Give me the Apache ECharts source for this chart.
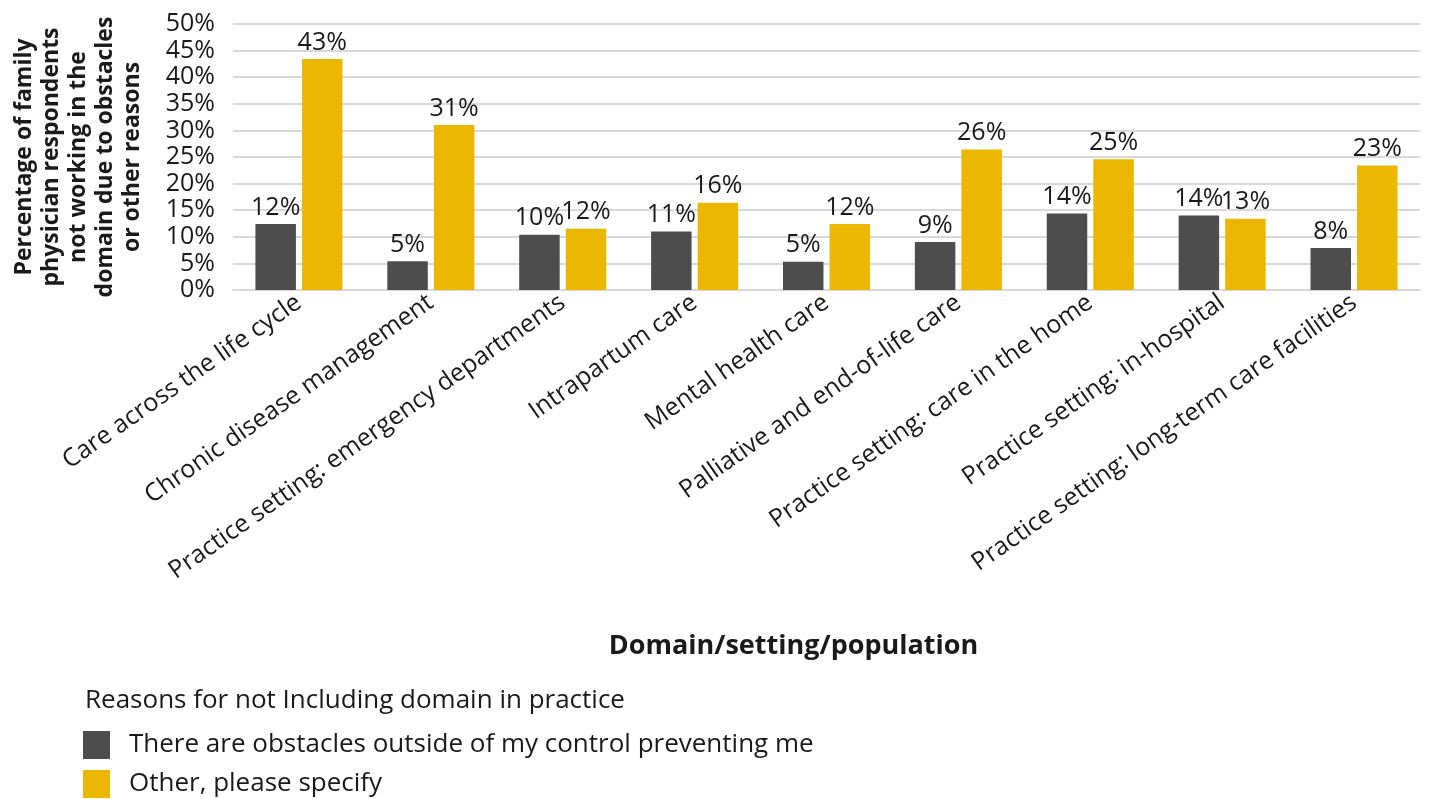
<!DOCTYPE html>
<html>
<head>
<meta charset="utf-8">
<script src="https://cdn.jsdelivr.net/npm/echarts@6/dist/echarts.min.js"></script>
<style>html,body{margin:0;padding:0;background:#fff}#c{width:1429px;height:799px}</style>
</head>
<body>
<div id="c"></div>
<script>
const categories = [
  "Care across the life cycle",
  "Chronic disease management",
  "Practice setting: emergency departments",
  "Intrapartum care",
  "Mental health care",
  "Palliative and end-of-life care",
  "Practice setting: care in the home",
  "Practice setting: in-hospital",
  "Practice setting: long-term care facilities"
];
const obstacles = [12.4, 5.4, 10.4, 11.0, 5.3, 9.0, 14.4, 14.0, 7.9];
const other = [43.4, 31.0, 11.5, 16.4, 12.4, 26.4, 24.6, 13.4, 23.4];
const seriesNames = ["There are obstacles outside of my control preventing me", "Other, please specify"];
const yTicks = [0, 5, 10, 15, 20, 25, 30, 35, 40, 45, 50];

const FONT = "'Open Sans', 'Noto Sans', sans-serif";
const chart = echarts.init(document.getElementById('c'));
const labelCfg = {
  show: true, position: 'top', distance: 4,
  fontFamily: FONT, fontSize: 25, color: '#1a1a1a',
  formatter: p => Math.round(p.value) + '%'
};
const legendBase = {
  orient: 'vertical', left: 78,
  itemWidth: 27, itemHeight: 28,
  icon: 'rect',
  textStyle: { fontFamily: FONT, fontSize: 26, color: '#1a1a1a', padding: [0, 0, 0, 14] }
};
chart.setOption({
  animation: false,
  textStyle: { fontFamily: FONT },
  title: {
    text: 'Reasons for not Including domain in practice',
    left: 80, top: 683,
    textStyle: { fontFamily: FONT, fontSize: 26, fontWeight: 'normal', color: '#1a1a1a' }
  },
  legend: [
    Object.assign({}, legendBase, { data: [seriesNames[0]], top: 726 }),
    Object.assign({}, legendBase, { data: [seriesNames[1]], top: 765 })
  ],
  grid: { left: 233, right: 9, top: 24, bottom: 509, outerBoundsMode: 'none', containLabel: false },
  xAxis: {
    type: 'category', data: categories,
    name: 'Domain/setting/population', nameLocation: 'middle', nameGap: 343,
    nameTextStyle: { fontFamily: FONT, fontSize: 27, fontWeight: 'bold', color: '#1a1a1a', padding: [0, 66, 0, 0] },
    axisLine: { show: true, lineStyle: { color: '#d9d9d9', width: 2 } },
    axisTick: { show: false },
    axisLabel: { interval: 0, rotate: 35, fontFamily: FONT, fontSize: 25, color: '#1a1a1a', margin: 10 }
  },
  yAxis: {
    type: 'value', min: 0, max: 50, interval: 5,
    name: 'Percentage of family\nphysician respondents\nnot working in the\ndomain due to obstacles\nor other reasons',
    nameLocation: 'middle', nameGap: 87, nameRotate: 90,
    nameTextStyle: { fontFamily: FONT, fontSize: 23, fontWeight: 'bold', color: '#1a1a1a', lineHeight: 27, align: 'center' },
    axisLine: { show: false }, axisTick: { show: false },
    axisLabel: { fontFamily: FONT, fontSize: 25, color: '#1a1a1a', margin: 18,
      formatter: v => yTicks.includes(v) ? v + '%' : '' },
    splitLine: { lineStyle: { color: '#d9d9d9', width: 2 } }
  },
  series: [
    { name: seriesNames[0], type: 'bar', data: obstacles, barGap: '15%', barCategoryGap: '34%',
      itemStyle: { color: '#4d4d4d' }, label: labelCfg },
    { name: seriesNames[1], type: 'bar', data: other,
      itemStyle: { color: '#ebb700' }, label: labelCfg }
  ]
});
</script>
</body>
</html>
